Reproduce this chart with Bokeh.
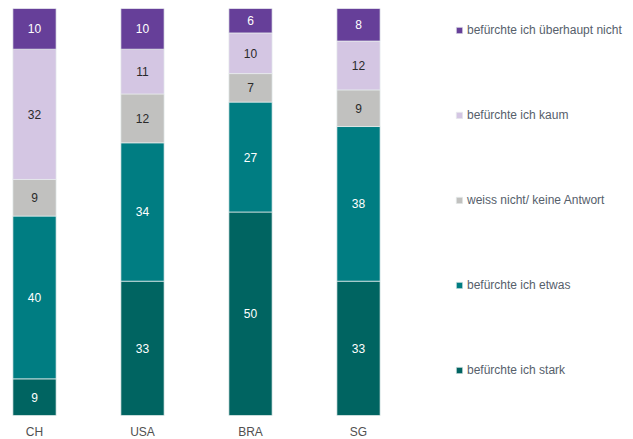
import numpy as np
from bokeh.plotting import figure
from bokeh.models import Range1d, Legend, LegendItem, ColumnDataSource
from bokeh.core.properties import value
from bokeh.embed import file_html
from bokeh.resources import INLINE

countries = ["CH", "USA", "BRA", "SG"]
series = ["befürchte ich stark", "befürchte ich etwas", "weiss nicht/ keine Antwort",
          "befürchte ich kaum", "befürchte ich überhaupt nicht"]
stark = [9, 33, 50, 33]
etwas = [40, 34, 27, 38]
weiss = [9, 12, 7, 9]
kaum = [32, 11, 10, 12]
ueberhaupt = [10, 10, 6, 8]
colors = ["#006461", "#007d82", "#c1c1bf", "#d4c6e3", "#663f99"]
text_colors = ["white", "white", "#2a2a2a", "#2a2a2a", "white"]

FONT = "Liberation Sans"
values = [stark, etwas, weiss, kaum, ueberhaupt]
keys = ["s0", "s1", "s2", "s3", "s4"]
x = list(range(len(countries)))
data = {"x": x}
for k, v in zip(keys, values):
    data[k] = v
src = ColumnDataSource(data)

W, H = 633, 439
p = figure(width=W, height=H, output_backend="svg", toolbar_location=None,
           x_range=Range1d(-0.3148, -0.3148 + W / 108.0), y_range=Range1d(-5.9, 100),
           min_border_left=0, min_border_right=0, min_border_top=8, min_border_bottom=0)
p.outline_line_color = None
p.grid.grid_line_color = None
p.xaxis.visible = False
p.yaxis.visible = False

rends = p.vbar_stack(keys, x="x", width=0.4, color=colors, line_color="#e8eeee",
                     line_width=0.7, source=src)

arr = np.array(values, dtype=float)
cum = np.cumsum(arr, axis=0)
for i in range(len(values)):
    mids = cum[i] - arr[i] / 2
    p.text(x=x, y=list(mids), text=[str(v) for v in values[i]],
           text_align="center", text_baseline="middle",
           text_font=value(FONT), text_font_size="12px", text_color=text_colors[i])

# category labels below the bars
p.text(x=x, y=[-4.0] * len(x), text=countries, text_align="center",
       text_baseline="middle", text_font=value(FONT), text_font_size="12px",
       text_color="#505050")

items = [LegendItem(label=series[i], renderers=[rends[i]]) for i in reversed(range(5))]
legend = Legend(items=items, location=(455, 59), orientation="vertical",
                glyph_width=8, glyph_height=8, label_height=20, label_standoff=4,
                spacing=65, padding=0, margin=0, border_line_color=None,
                background_fill_alpha=0, label_text_font=FONT,
                label_text_font_size="12px", label_text_color="#56606b")
p.add_layout(legend)

open("out.html", "w").write(file_html(p, INLINE))
